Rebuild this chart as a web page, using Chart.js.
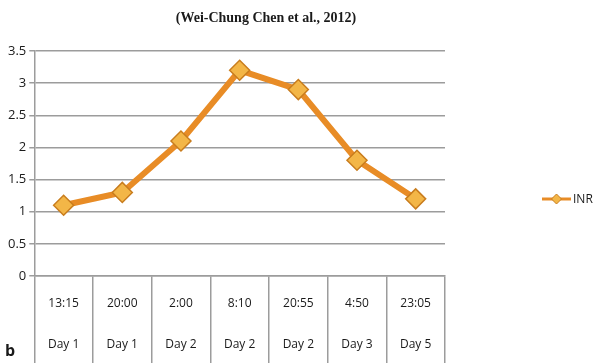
<!DOCTYPE html>
<html>
<head>
<meta charset="utf-8">
<script src="https://cdn.jsdelivr.net/npm/chart.js@4.4.0/dist/chart.umd.min.js"></script>
<style>
  html, body { margin: 0; padding: 0; background: #fff; }
  #wrap { width: 611px; height: 363px; position: relative; }
</style>
</head>
<body>
<div id="wrap"><canvas id="inrChart"></canvas></div>
<script>
var times = ['13:15', '20:00', '2:00', '8:10', '20:55', '4:50', '23:05'];
var days = ['Day 1', 'Day 1', 'Day 2', 'Day 2', 'Day 2', 'Day 3', 'Day 5'];
var inr = [1.1, 1.3, 2.1, 3.2, 2.9, 1.8, 1.2];
var yTicks = [0, 0.5, 1, 1.5, 2, 2.5, 3, 3.5];

var lineColor = '#e88c26';
var gridColor = '#9c9c9c';
var fillColor = '#f3b647';
var edgeColor = '#c97d1e';

let labels = [];
times.forEach((t, i) => {
    labels.push([t, days[i]]);
});

// title, legend and the panel letter
var extraText = {
    id: 'extraText',
    afterDraw(chart){
        let ctx = chart.ctx;
        ctx.save();
        ctx.fillStyle = '#1a1a1a';
        ctx.font = 'bold 14px "Liberation Serif"';
        ctx.textAlign = 'center';
        ctx.textBaseline = 'middle';
        ctx.fillText('(Wei-Chung Chen et al., 2012)', 266, 18);

        ctx.font = 'bold 16px "Open Sans"';
        ctx.textAlign = 'left';
        ctx.fillText('b', 5, 351);

        // legend
        let ly = 199;
        ctx.strokeStyle = lineColor;
        ctx.lineWidth = 3;
        ctx.beginPath();
        ctx.moveTo(542, ly);
        ctx.lineTo(571, ly);
        ctx.stroke();
        ctx.fillStyle = fillColor;
        ctx.strokeStyle = edgeColor;
        ctx.lineWidth = 1;
        ctx.beginPath();
        ctx.moveTo(556.5, ly - 5);
        ctx.lineTo(561.5, ly);
        ctx.lineTo(556.5, ly + 5);
        ctx.lineTo(551.5, ly);
        ctx.closePath();
        ctx.fill();
        ctx.stroke();
        ctx.fillStyle = '#1a1a1a';
        ctx.font = '12px "Open Sans"';
        ctx.fillText(chart.data.datasets[0].label, 573, ly + 1);
        ctx.restore();
    }
};

new Chart(document.getElementById('inrChart'), {
    type: 'line',
    data: {
        labels: labels,
        datasets: [{
            label: 'INR',
            data: inr,
            borderColor: lineColor,
            borderWidth: 6,
            tension: 0,
            pointStyle: 'rectRot',
            pointRadius: 10,
            pointBackgroundColor: fillColor,
            pointBorderColor: edgeColor,
            pointBorderWidth: 1.5
        }]
    },
    options: {
        responsive: true,
        maintainAspectRatio: false,
        animation: false,
        layout: {
            padding: { top: 51, left: 5, right: 166, bottom: 0 }
        },
        plugins: {
            legend: { display: false },
            tooltip: { enabled: false }
        },
        scales: {
            x: {
                offset: true,
                afterFit: (scale) => { scale.height = 87; },
                grid: {
                    offset: true,
                    drawOnChartArea: false,
                    drawTicks: true,
                    tickLength: 88,
                    color: gridColor,
                    lineWidth: 1.5
                },
                border: { display: true, color: gridColor, width: 1.5 },
                ticks: {
                    padding: -81,
                    maxRotation: 0,
                    autoSkip: false,
                    color: '#1a1a1a',
                    font: { family: '"Open Sans"', size: 12, lineHeight: 3.4 }
                }
            },
            y: {
                min: 0,
                max: 3.5,
                afterBuildTicks: (axis) => {
                    axis.ticks = yTicks.map(v => ({ value: v }));
                },
                grid: {
                    color: gridColor,
                    lineWidth: 1.5,
                    tickLength: 5
                },
                border: { display: true, color: gridColor, width: 1.5 },
                ticks: {
                    padding: 3,
                    color: '#1a1a1a',
                    font: { family: '"Open Sans"', size: 13 },
                    callback: (v) => String(v)
                }
            }
        }
    },
    plugins: [extraText]
});
</script>
</body>
</html>
